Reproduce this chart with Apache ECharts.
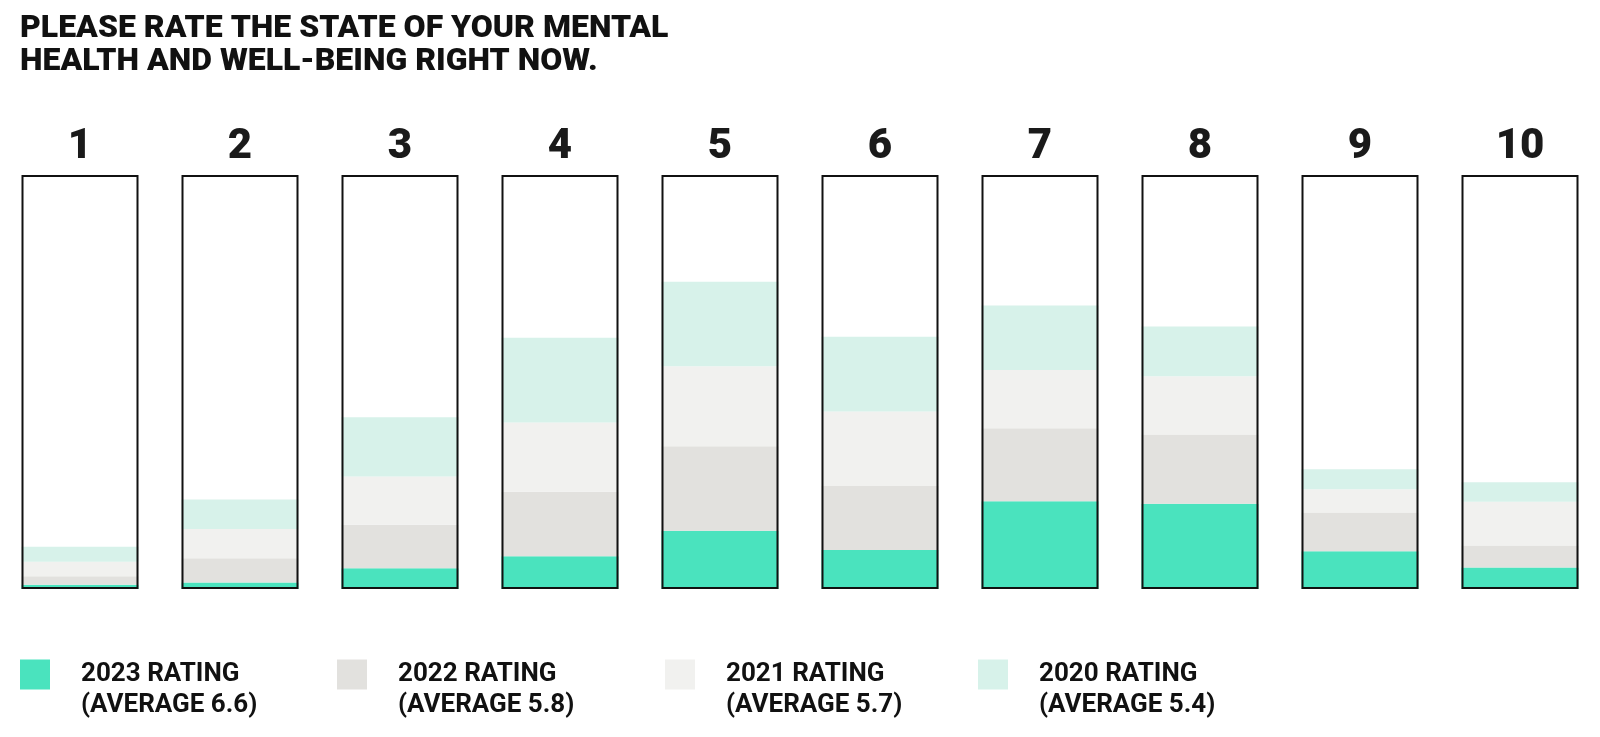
<!DOCTYPE html>
<html>
<head>
<meta charset="utf-8">
<title>Mental health rating</title>
<script src="https://cdn.jsdelivr.net/npm/echarts@6/dist/echarts.min.js"></script>
<style>
    html, body { margin: 0; padding: 0; background: #fff; }
    #chart { width: 1600px; height: 737px; }
</style>
</head>
<body>
<div id="chart"></div>
<script>
// 评分 1-10
const ratings = ['1', '2', '3', '4', '5', '6', '7', '8', '9', '10'];
// share of respondents, in box units (box = 100)
const rating2023 = [1.0, 1.6, 5.0, 7.9, 14.1, 9.4, 21.2, 20.6, 9.1, 5.2];
const rating2022 = [2.1, 5.8, 10.5, 15.6, 20.4, 15.5, 17.6, 16.7, 9.4, 5.3];
const rating2021 = [3.5, 7.1, 11.7, 16.7, 19.3, 18.0, 14.1, 14.1, 5.6, 10.6];
const rating2020 = [3.6, 7.1, 14.3, 20.5, 20.4, 18.0, 15.6, 12.0, 4.8, 4.7];
const seriesNames = ['2023 RATING', '2022 RATING', '2021 RATING', '2020 RATING'];
const averages = ['6.6', '5.8', '5.7', '5.4'];
const boxMax = 100;

const colors = ['#4ae3be', '#e2e1de', '#f1f1ef', '#d7f2ea'];
const legendLeft = [20, 337, 665, 978];
const font = 'Roboto, "Noto Sans", sans-serif';

let chart = echarts.init(document.getElementById('chart'));
drawChart(chart);

function drawChart(chart) {
    const values = [rating2023, rating2022, rating2021, rating2020];
    let series = values.map(function(v, i) {
        return {
            name: seriesNames[i],
            type: 'bar',
            stack: 'rating',
            barWidth: 117,
            barGap: '-100%',
            itemStyle: { color: colors[i] },
            data: v
        };
    });
    // 外框
    series.push({
        name: 'frame',
        type: 'bar',
        barWidth: 117,
        barGap: '-100%',
        silent: true,
        z: 10,
        itemStyle: { color: 'rgba(0,0,0,0)', borderColor: '#111', borderWidth: 2 },
        data: ratings.map(function() { return boxMax; })
    });

    // 图例: 第一行和色块对齐
    let legends = seriesNames.map(function(name, i) {
        return {
            data: [name],
            left: legendLeft[i],
            top: 628,
            padding: 0,
            icon: 'rect',
            itemWidth: 30,
            itemHeight: 30,
            selectedMode: false,
            formatter: function(n) {
                return '\n' + n + '\n(AVERAGE ' + averages[i] + ')';
            },
            textStyle: {
                fontFamily: font,
                fontWeight: 'bold',
                fontSize: 26,
                lineHeight: 31,
                color: '#111',
                padding: [0, 0, 0, 26]
            }
        };
    });

    let option = {
        animation: false,
        title: {
            text: 'PLEASE RATE THE STATE OF YOUR MENTAL\nHEALTH AND WELL-BEING RIGHT NOW.',
            left: 20,
            top: 12,
            padding: 0,
            textStyle: {
                fontFamily: font,
                fontWeight: 900,
                fontSize: 32,
                lineHeight: 33,
                color: '#111'
            }
        },
        legend: legends,
        grid: { left: -3, right: -2, top: 175, bottom: 148 },
        xAxis: {
            type: 'category',
            position: 'top',
            data: ratings,
            axisLine: { show: false },
            axisTick: { show: false },
            axisLabel: {
                interval: 0,
                margin: 7,
                fontFamily: font,
                fontWeight: 900,
                fontSize: 42,
                color: '#1a1a1a'
            }
        },
        yAxis: {
            type: 'value',
            min: 0,
            max: boxMax,
            show: false
        },
        series: series
    };
    chart.setOption(option);
}
</script>
</body>
</html>
